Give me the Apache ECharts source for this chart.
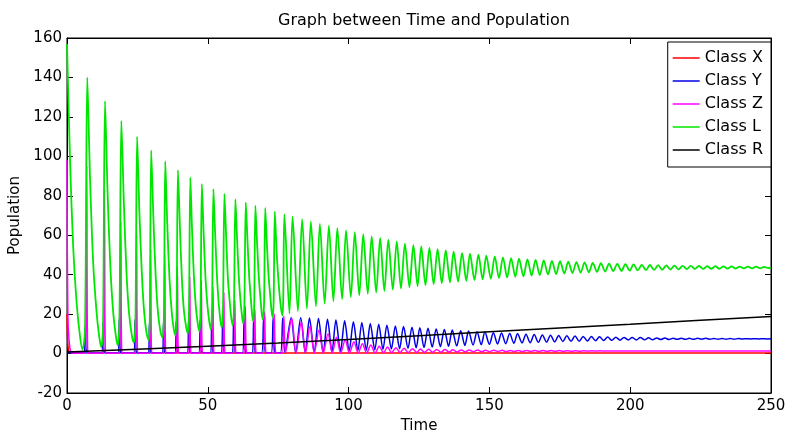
<!DOCTYPE html>
<html>
<head>
<meta charset="utf-8">
<script src="https://cdn.jsdelivr.net/npm/echarts@6/dist/echarts.min.js"></script>
<style>
html,body{margin:0;padding:0;background:#fff;}
#chart{width:785px;height:432px;}
</style>
</head>
<body>
<div id="chart"></div>
<script>
// ---- data: [time, population] ----
var seriesNames = ['Class X', 'Class Y', 'Class Z', 'Class L', 'Class R'];
var xTickValues = [0, 50, 100, 150, 200, 250];
var yTickValues = [-20, 0, 20, 40, 60, 80, 100, 120, 140, 160];

var classX = [
  [0,20],[0.4,3],[1.2,0.4],
  [6.6,0.2],[7.0,1.5],[7.4,0.3],[12.9,0.2],[13.3,1.4],[13.7,0.3],
  [18.7,0.2],[19.1,1.3],[19.5,0.3],[24.3,0.2],[24.7,1.2],[25.1,0.3],
  [29.3,0.2],[29.7,1.1],[30.1,0.3],[34.3,0.2],[34.7,1.0],[35.1,0.3],
  [38.8,0.2],[39.2,0.9],[39.6,0.3],[43.2,0.2],[43.6,0.8],[44.0,0.3],
  [47.3,0.2],[47.7,0.7],[48.1,0.3],
  [60,0.3],[100,0.3],[150,0.3],[200,0.3],[250,0.3]
];

var classY = [
  [0,0.5],[1,0.3],
  [6.0,0.3],[6.5,14],[7.0,0.5],
  [12.3,0.3],[12.8,15.8],[13.3,0.5],
  [18.1,0.3],[18.6,18],[19.1,0.5],
  [23.7,0.3],[24.2,17.4],[24.7,0.5],
  [28.8,0.3],[29.3,15.5],[29.8,0.5],
  [33.8,0.3],[34.3,16],[34.8,0.5],
  [38.3,0.3],[38.8,16.5],[39.3,0.5],
  [42.7,0.3],[43.2,17],[43.7,0.5],
  [46.8,0.3],[47.3,17],[47.8,0.5],
  [50.9,0.3],[51.4,17],[51.9,0.5],
  [54.7,0.3],[55.3,17],[55.9,0.5],
  [58.6,0.3],[59.2,17.5],[59.8,0.5],
  [62.3,0.3],[62.9,17.5],[63.5,0.6],
  [65.7,0.3],[66.3,17.5],[66.9,0.6],
  [69.1,0.3],[69.8,17.5],[70.5,0.6],
  [72.5,0.3],[73.2,18],[73.9,0.6],
  [75.8,0.3],[76.6,18],[77.4,0.6],
  [79.6,18.2],[81.2,0.4],[83.0,18.2],[84.6,0.5],[86.1,18],[87.8,0.6],
  [89.3,17.8],[91.0,0.7],[92.5,17.4],[94.1,0.9],[95.5,17.0],[97.1,1.1],
  [98.6,16.6],[100.2,1.3],[101.7,16.1],[103.3,1.5],[104.7,15.7],[106.3,1.7],
  [107.7,15.2],[109.3,1.9],[110.7,14.8],[112.2,2.1],[113.6,14.4],[115.2,2.3],
  [116.6,14.0],[118.1,2.5],[119.5,13.7],[121.1,2.7],[122.5,13.4],[124.0,2.9],
  [125.3,13.1],[126.8,3.1],[128.2,12.8],[129.7,3.3],[131.1,12.5],[132.6,3.5],
  [134.0,12.2],[135.5,3.7],[136.8,11.9],[138.4,3.9],[139.8,11.6],[141.3,4.1],
  [142.6,11.4],[144.2,4.3],[145.6,11.1],[147.1,4.5],[148.4,10.9],[150.0,4.7],
  [151.4,10.6],[152.9,4.9],[154.3,10.4],[155.8,5.0],[157.2,10.2],[158.7,5.2],
  [160.0,10.0],[161.6,5.4],[163.0,9.8],[164.5,5.5],[165.9,9.6],[167.4,5.7],
  [168.8,9.4],[170.3,5.8],[171.7,9.3],[173.2,5.9],[174.6,9.1],[176.1,6.1],
  [177.5,9.0],[179.0,6.2],[180.4,8.9],[181.9,6.3],[183.3,8.7],[184.8,6.4],
  [186.2,8.6],[187.7,6.5],[189.1,8.5],[190.6,6.6],[192.0,8.4],[193.5,6.7],
  [194.9,8.3],[196.4,6.8],[197.8,8.2],[199.3,6.9],[200.7,8.1],[202.2,6.9],
  [203.6,8.1],[205.1,7.0],[206.5,8.0],[208.0,7.0],[209.4,7.9],[210.9,7.1],
  [212.3,7.9],[213.8,7.1],[215.2,7.8],[216.7,7.2],[218.1,7.8],[219.6,7.2],
  [221.0,7.7],[222.5,7.2],[223.9,7.7],[225.4,7.3],[226.8,7.7],[228.3,7.3],
  [229.7,7.6],[231.2,7.3],[232.6,7.6],[234.1,7.3],[235.5,7.6],[237.0,7.3],
  [238.4,7.6],[239.9,7.4],[241.3,7.5],[242.8,7.4],[244.2,7.5],[245.7,7.4],
  [247.1,7.5],[248.6,7.4],[250,7.45]
];

var classZ = [
  [0,98],[0.3,20],[1.0,3],[2.0,0.2],
  [6.6,0.1],[7.0,95],[7.4,0.3],
  [12.9,0.1],[13.3,83],[13.7,0.3],
  [18.7,0.1],[19.1,67],[19.5,0.3],
  [24.3,0.1],[24.7,60],[25.1,0.3],
  [29.3,0.1],[29.7,53],[30.1,0.3],
  [34.3,0.1],[34.7,50],[35.1,0.3],
  [38.8,0.1],[39.2,44],[39.6,0.3],
  [43.2,0.1],[43.6,39],[44.0,0.3],
  [47.3,0.1],[47.7,37],[48.1,0.3],
  [51.4,0.1],[51.8,34],[52.2,0.3],
  [55.3,0.1],[55.7,31],[56.1,0.3],
  [59.2,0.1],[59.6,27],[60.0,0.3],
  [62.9,0.1],[63.3,24],[63.8,0.3],
  [66.2,0.1],[66.7,22.5],[67.2,0.3],
  [69.7,0.1],[70.2,21.2],[70.7,0.3],
  [73.0,0.1],[73.6,20],[74.2,0.3],
  [76.4,0.1],[77.0,19],[77.6,0.3],
  [79.8,18],[81.3,0.2],[83.2,16],[84.7,0.2],[86.3,14],[87.8,0.2],
  [89.5,12],[91.0,0.2],[92.7,10],[94.2,0.2],[95.7,8.3],[97.2,0.2],
  [98.8,7.0],[100.3,0.2],[101.9,6.0],[103.4,0.3],[104.9,5.0],[106.4,0.3],
  [107.9,4.3],[109.4,0.3],[110.9,3.7],[112.4,0.4],[113.8,3.3],[115.3,0.4],
  [116.8,3.0],[118.3,0.5],[119.7,2.7],[121.2,0.5],[122.7,2.5],[124.2,0.6],
  [125.5,2.3],[127.0,0.6],[128.4,2.2],[129.9,0.7],[131.3,2.1],[132.8,0.7],
  [134.2,2.0],[135.7,0.8],[137.0,1.9],[138.5,0.8],[140.0,1.85],[141.5,0.85],
  [142.8,1.8],[144.3,0.9],[145.8,1.75],[147.3,0.9],[148.6,1.7],[150.1,0.95],
  [151.6,1.7],[153.1,1.0],[154.5,1.65],[156.0,1.0],[157.4,1.6],[158.9,1.05],
  [160.2,1.6],[161.7,1.05],[163.2,1.55],[164.7,1.1],[166.1,1.55],[167.6,1.1],
  [169.0,1.5],[170.5,1.15],[171.9,1.5],[173.4,1.15],[174.8,1.5],[176.3,1.2],
  [177.7,1.45],[179.2,1.2],[180.6,1.45],[182.1,1.2],[183.5,1.45],[185.0,1.25],
  [186.4,1.45],[187.9,1.25],[189.3,1.4],[190.8,1.25],[195,1.35],[200,1.32],
  [210,1.33],[220,1.33],[230,1.33],[240,1.33],[250,1.33]
];

var classL = [
  [0,157],[1.1,97],[2.2,54],[3.4,26],[4.6,9],[5.5,2.0],[6.4,12],
  [7.2,140],[8.2,88],[9.3,46],[10.5,21],[11.5,8],[12.2,3.3],[12.8,14],
  [13.5,128],[14.4,82],[15.4,44],[16.4,21],[17.4,8.5],[18.0,4.3],[18.6,15],
  [19.3,118],[20.2,76],[21.1,42],[22.0,21],[23.0,9.5],[23.7,5.5],[24.3,16],
  [24.9,110],[25.7,72],[26.6,40],[27.4,21],[28.3,10],[29.0,6.7],[29.4,17],
  [29.9,103],[30.7,68],[31.5,39],[32.3,21],[33.2,11],[33.9,8.0],[34.4,18],
  [34.9,97.5],[35.6,66],[36.4,38],[37.2,21],[37.9,12.5],[38.5,9.2],[38.9,19],
  [39.4,93],[40.1,64],[40.8,38],[41.5,22],[42.3,13.5],[42.9,10.2],[43.3,20],
  [43.8,89.3],[44.4,63],[45.1,38],[45.8,23],[46.5,14.5],[47.0,11.2],[47.4,21],
  [47.9,86],[48.5,62],[49.2,38],[49.9,24],[50.6,15.5],[51.1,12.2],[51.5,22],
  [52.0,83.4],[52.6,61],[53.3,38],[53.9,25],[54.5,16.5],[55.0,13.2],[55.4,23],
  [55.9,81],[56.5,60],[57.1,39],[57.8,26],[58.4,17.5],[58.9,14.2],[59.3,24],
  [59.8,78.3],[60.4,58],[61.0,39],[61.6,27],[62.2,18.5],[62.6,15.2],[63.0,25],
  [63.5,76.6],[64.1,57],[64.7,39],[65.3,27.5],[65.8,19],[66.2,16.3],[66.5,26],
  [66.9,75],[67.5,56],[68.1,39],[68.7,28],[69.2,20],[69.6,17.3],[70.0,27],
  [70.4,73.8],[71.0,55],[71.6,39],[72.2,29],[72.7,21],[73.1,18.3],[73.4,28],
  [73.8,72],[74.5,50],[75.3,33],[76.0,23],[76.5,19.3],[76.8,28],
  [77.2,70.7],[79.0,20.3],[80.1,69.5],[82.0,21.5],[83.5,68.2],[85.2,22.7],
  [86.6,67.0],[88.4,24.0],[89.8,65.8],[91.5,25.3],[93.0,64.8],[94.6,26.5],
  [96.0,63.6],[97.7,27.6],[99.1,62.4],[100.8,28.6],[102.2,61.6],[103.8,29.5],
  [105.2,60.6],[106.8,30.3],[108.2,59.4],[109.8,31.0],[111.2,58.6],[112.7,31.7],
  [114.1,57.7],[115.7,32.4],[117.1,56.9],[118.6,33.0],[120.0,55.7],[121.6,33.6],
  [123.0,55.0],[124.5,34.2],[125.8,54.3],[127.3,34.7],[128.7,53.6],[130.2,35.2],
  [131.6,53.0],[133.1,35.7],[134.5,52.3],[136.0,36.1],[137.3,51.7],[138.9,36.5],
  [140.3,51.1],[141.8,36.9],[143.1,50.6],[144.7,37.3],[146.1,50.1],[147.6,37.6],
  [148.9,49.6],[150.5,38.0],[151.9,49.2],[153.4,38.3],[154.8,48.8],[156.3,38.6],
  [157.7,48.4],[159.2,38.9],[160.5,48.1],[162.1,39.2],[163.5,47.8],[165.0,39.5],
  [166.4,47.5],[167.9,39.8],[169.3,47.2],[170.8,40.1],[172.2,47.0],[173.7,40.3],
  [175.1,46.8],[176.6,40.6],[178.0,46.6],[179.5,40.8],[180.9,46.4],[182.4,41.0],
  [183.8,46.2],[185.3,41.2],[186.7,46.0],[188.2,41.4],[189.6,45.8],[191.1,41.6],
  [192.5,45.6],[194.0,41.8],[195.4,45.5],[196.9,41.9],[198.3,45.3],[199.8,42.0],
  [201.2,45.2],[202.7,42.2],[204.1,45.0],[205.6,42.3],[207.0,44.9],[208.5,42.4],
  [209.9,44.8],[211.4,42.5],[212.8,44.7],[214.3,42.6],[215.7,44.6],[217.2,42.7],
  [218.6,44.5],[220.1,42.8],[221.5,44.5],[223.0,42.9],[224.4,44.4],[225.9,42.9],
  [227.3,44.3],[228.8,43.0],[230.2,44.3],[231.7,43.0],[233.1,44.2],[234.6,43.1],
  [236.0,44.2],[237.5,43.1],[238.9,44.1],[240.4,43.2],[241.8,44.1],[243.3,43.2],
  [244.7,44.1],[246.2,43.2],[247.6,44.0],[249.1,43.3],[250,43.7]
];

var classR = [
  [0,0.8],[25,2.2],[50,3.7],[75,5.3],[100,7.1],[125,9.0],
  [150,11.0],[175,13.0],[200,14.9],[225,16.9],[250,18.8]
];

var seriesColors = ['#ff0000', '#0000e6', '#ff00ff', '#00e600', '#000000'];

// ---- chart ----
var chart = echarts.init(document.getElementById('chart'), null, {renderer: 'canvas'});
var FONT = 'DejaVu Sans';
var axisCommon = {
  type: 'value',
  splitLine: {show: false},
  axisLine: {show: true, onZero: false, lineStyle: {color: '#000', width: 1}},
  axisTick: {show: true, inside: true, length: 6, lineStyle: {color: '#000'}}
};
var dataSets = [classX, classY, classZ, classL, classR];
var series = seriesNames.map(function (name, i) {
  return {
    name: name,
    type: 'line',
    data: dataSets[i],
    showSymbol: false,
    symbol: 'none',
    smooth: i === 4 ? false : 0.3,
    lineStyle: {color: seriesColors[i], width: i === 3 ? 1.8 : 1.5},
    itemStyle: {color: seriesColors[i]},
    animation: false,
    z: 2 + i
  };
});

chart.setOption({
  animation: false,
  backgroundColor: '#ffffff',
  textStyle: {fontFamily: FONT},
  title: {
    text: 'Graph between Time and Population',
    left: 419, top: 8, textAlign: 'center',
    textStyle: {fontFamily: FONT, fontSize: 16, fontWeight: 'normal', color: '#000'}
  },
  grid: {left: 67, right: 14, top: 38, bottom: 39, outerBoundsMode: 'none', containLabel: false,
         show: true, borderColor: '#000', borderWidth: 1, backgroundColor: '#fff'},
  legend: {
    data: seriesNames,
    orient: 'vertical',
    right: 14, top: 42,
    padding: [8, 8, 9, 5],
    itemGap: 7,
    itemWidth: 27, itemHeight: 1.5,
    icon: 'rect',
    backgroundColor: '#fff',
    borderColor: '#000', borderWidth: 1, borderRadius: 0,
    textStyle: {fontFamily: FONT, fontSize: 16, color: '#000', lineHeight: 16}
  },
  xAxis: [
    Object.assign({}, axisCommon, {
      position: 'bottom', min: xTickValues[0], max: xTickValues[xTickValues.length - 1], interval: 50,
      name: 'Time', nameLocation: 'middle', nameGap: 25,
      nameTextStyle: {fontFamily: FONT, fontSize: 15, color: '#000'},
      axisLabel: {show: true, margin: 6, color: '#000', fontFamily: FONT, fontSize: 15}
    }),
    Object.assign({}, axisCommon, {
      position: 'top', min: xTickValues[0], max: xTickValues[xTickValues.length - 1], interval: 50,
      axisLabel: {show: false}
    })
  ],
  yAxis: [
    Object.assign({}, axisCommon, {
      position: 'left', min: yTickValues[0], max: yTickValues[yTickValues.length - 1], interval: 20,
      name: 'Population', nameLocation: 'middle', nameGap: 36,
      nameTextStyle: {fontFamily: FONT, fontSize: 15, color: '#000'},
      axisLabel: {show: true, margin: 5, color: '#000', fontFamily: FONT, fontSize: 15}
    }),
    Object.assign({}, axisCommon, {
      position: 'right', min: yTickValues[0], max: yTickValues[yTickValues.length - 1], interval: 20,
      axisLabel: {show: false}
    })
  ],
  series: series
});
</script>
</body>
</html>
